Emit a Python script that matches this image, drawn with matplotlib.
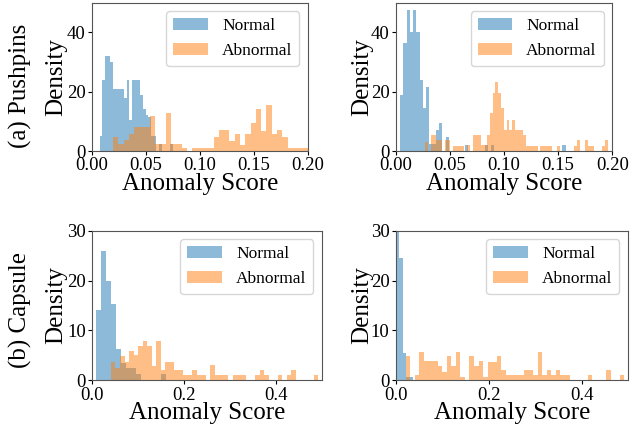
import numpy as np
import matplotlib
matplotlib.use("Agg")
import matplotlib.pyplot as plt

plt.rcParams['font.family'] = ['Liberation Serif', 'DejaVu Serif']
plt.rcParams['mathtext.fontset'] = 'stix'

BLUE = '#1f77b4'
ORANGE = '#ff7f0e'

# ---- Panel (a) left: Pushpins ----
a1_norm_start, a1_norm_width = 0.0071, 0.0025
a1_norm = [5, 24, 32, 32, 30, 21, 21, 21, 21, 18, 24, 10.5, 24, 24, 24, 19, 14, 12,
           11.6, 5, 5, 0, 2.4, 0, 0, 0, 2.4]
a1_abn_start, a1_abn_width = 0.0194, 0.0049
a1_abn = [4.6, 2.4, 3.7, 5.7, 8.2, 8.2, 8.2, 11.8, 2.4, 2.4, 12.9, 2.4, 2.4, 1.1, 0,
          0.9, 0.9, 0.9, 0.9, 4.6, 7.1, 7.1, 3.5, 5.7, 2.0, 5.7, 9.5, 14.0, 6.9, 15.5,
          5.7, 7.1, 4.6, 0.9, 0.9, 0.9, 0.9]

# ---- Panel (a) right: Pushpins ----
a2_norm_start, a2_norm_width = 0.004, 0.003
a2_norm = [18.9, 36.3, 47.5, 40.2, 47.5, 40.2, 24, 14.4, 21.5, 2.4, 2.4, 7, 9.3, 0,
           4.6, 0, 0, 0, 0, 0, 2, 0, 0, 0, 0, 0, 2, 0, 2, 0, 0, 0, 0, 0, 0, 0, 0, 0,
           0, 0, 0, 0, 0, 0, 0, 0, 0, 0, 0, 0, 2]
a2_abn_start, a2_abn_width = 0.027, 0.0026
a2_abn = [3.1, 0, 5.4, 5.4, 3.7, 3.7, 0, 3.7, 3.7, 0, 1.7, 1.7, 1.7, 1.7, 0, 2, 0,
          5.4, 5.4, 5.4, 2, 2, 5.4, 12.7, 19.4, 23.4, 19.4, 14.4, 7.1, 10.4, 7.1, 10.4,
          7.1, 7.1, 7.1, 5.4, 1.7, 1.7, 1.7, 1.7, 0, 1.7, 1.7, 1.7, 1.7, 0, 0, 1.7, 0,
          0, 0, 0, 0, 1.7, 3.7, 0, 0, 3.7, 1.7, 1.7, 0, 0, 0, 1.7, 3.7]

# ---- Panel (b) left: Capsule ----
b1_norm_start, b1_norm_width = 0.0074, 0.0109
b1_norm = [14, 26, 20, 15.3, 6.2, 3.4, 2.4, 2.4, 1.2, 0, 0, 0, 0, 1.2]
b1_abn_start, b1_abn_width = 0.0407, 0.0098
b1_abn = [3.7, 2.5, 4.9, 3.7, 5.8, 5.0, 6.9, 7.9, 6.9, 2.9, 7.9, 2.0, 3.7, 3.7, 2.0,
          2.0, 1.1, 1.1, 2.0, 1.1, 1.1, 0, 3.0, 1.1, 1.1, 1.1, 0, 1.1, 1.1, 1.1, 0, 0,
          1.1, 2.0, 1.1, 0, 0, 1.1, 0, 1.1, 2.0, 0, 0, 0, 0, 1.1]

# ---- Panel (b) right: Capsule ----
b2_norm_start, b2_norm_width = 0.0, 0.0075
b2_norm = [45, 24.5, 5.5, 0.7, 0.7]
b2_abn_start, b2_abn_width = 0.0215, 0.0098
b2_abn = [4.9, 0, 1.1, 5.7, 3.9, 3.9, 3.9, 2.9, 1.7, 4.9, 2.9, 5.7, 0.7, 0, 4.9, 2.9,
          3.9, 0.7, 3.7, 3.7, 4.9, 2.1, 1.1, 1.1, 1.1, 1.1, 2.1, 2.1, 1.1, 5.7, 1.1, 2.1,
          1.1, 2.1, 1.1, 1.1, 0, 0, 0, 0, 1.1, 0, 0, 0, 2.1, 0, 0, 1.1]

W, H = 637, 425
fig = plt.figure(figsize=(W / 100, H / 100), dpi=100)


def add_axes_px(left, top, right, bottom):
    return fig.add_axes([left / W, 1 - bottom / H, (right - left) / W, (bottom - top) / H])


def draw_hist(ax, start, width, heights, color, label):
    heights = np.asarray(heights, dtype=float)
    edges = start + width * np.arange(len(heights) + 1)
    ax.hist(edges[:-1] + width / 2, bins=edges, weights=heights, color=color,
            alpha=0.5, label=label)


panels = [
    ((92, 2.7, 308, 151), (a1_norm_start, a1_norm_width, a1_norm),
     (a1_abn_start, a1_abn_width, a1_abn), (0, 0.2), (0, 50), [0, 20, 40],
     [0.0, 0.05, 0.10, 0.15, 0.20], '{:.2f}', 67),
    ((395.7, 2.7, 612.3, 151), (a2_norm_start, a2_norm_width, a2_norm),
     (a2_abn_start, a2_abn_width, a2_abn), (0, 0.2), (0, 50), [0, 20, 40],
     [0.0, 0.05, 0.10, 0.15, 0.20], '{:.2f}', 373),
    ((92.3, 230.7, 322, 380.3), (b1_norm_start, b1_norm_width, b1_norm),
     (b1_abn_start, b1_abn_width, b1_abn), (0, 0.5), (0, 30), [0, 10, 20, 30],
     [0.0, 0.2, 0.4], '{:.1f}', 67),
    ((395.7, 230.7, 628, 380.3), (b2_norm_start, b2_norm_width, b2_norm),
     (b2_abn_start, b2_abn_width, b2_abn), (0, 0.5), (0, 30), [0, 10, 20, 30],
     [0.0, 0.2, 0.4], '{:.1f}', 373),
]

for box, norm, abn, xl, yl, yt, xt, fmt, ylab_x in panels:
    ax = add_axes_px(*box)
    draw_hist(ax, *norm, BLUE, 'Normal')
    draw_hist(ax, *abn, ORANGE, 'Abnormal')
    ax.set_xlim(*xl)
    ax.set_ylim(*yl)
    ax.set_yticks(yt)
    ax.set_xticks(xt)
    ax.set_xticklabels([fmt.format(v) for v in xt])
    ax.tick_params(labelsize=13.5, pad=1.5, length=3)
    ax.set_xlabel('Anomaly Score', fontsize=18, labelpad=-1)
    ax.set_ylabel('Density', fontsize=18)
    ax.yaxis.set_label_coords((ylab_x - box[0]) / (box[2] - box[0]), 0.5)
    for s in ax.spines.values():
        s.set_color('#555555')
    ax.legend(loc='upper right', fontsize=12.5, handlelength=2.0, borderpad=0.4,
              labelspacing=0.5, handletextpad=0.8)

fig.text(20 / W, 1 - 86 / H, '(a) Pushpins', rotation=90, fontsize=18,
         ha='center', va='center')
fig.text(20 / W, 1 - 310 / H, '(b) Capsule', rotation=90, fontsize=18,
         ha='center', va='center')

fig.savefig('out.png', dpi=100)
